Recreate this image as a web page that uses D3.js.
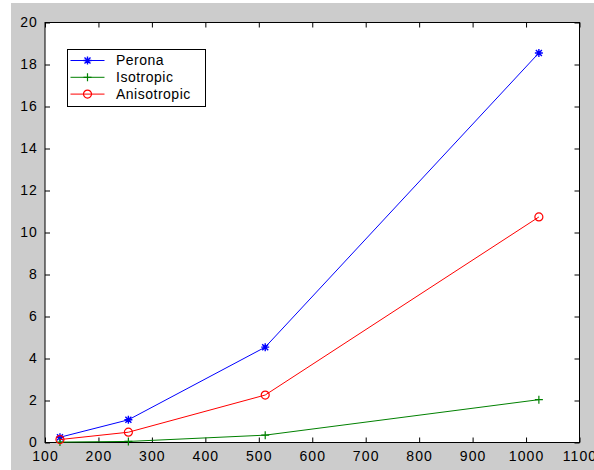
<!DOCTYPE html>
<html>
<head>
<meta charset="utf-8">
<script src="https://cdn.jsdelivr.net/npm/d3@7"></script>
<style>
  body { margin: 0; background: #fff; }
  text { font-family: "Liberation Sans", Arial, sans-serif; }
</style>
</head>
<body>
<script>
var sizes = [128, 256, 512, 1024];
var perona = [0.25, 1.08, 4.54, 18.55];
var isotropic = [0.02, 0.05, 0.35, 2.04];
var anisotropic = [0.14, 0.49, 2.26, 10.74];
var xTicks = [100, 200, 300, 400, 500, 600, 700, 800, 900, 1000, 1100];
var yTicks = [0, 2, 4, 6, 8, 10, 12, 14, 16, 18, 20];

var series = [
  {name: "Perona", values: perona, color: "#0000ff", marker: "star"},
  {name: "Isotropic", values: isotropic, color: "#008000", marker: "plus"},
  {name: "Anisotropic", values: anisotropic, color: "#ff0000", marker: "circle"}
];

var W = 594, H = 470;
var margin = {left: 45, top: 22.5, right: 14.5, bottom: 27.5};
var width = W - margin.left - margin.right;
var height = H - margin.top - margin.bottom;

var svg = d3.select("body").append("svg").attr("width", W).attr("height", H);

// gray figure background
svg.append("rect").attr("x", 11).attr("y", 3).attr("width", W - 11).attr("height", H - 3).attr("fill", "#cccccc");

var g = svg.append("g").attr("transform", "translate(" + margin.left + "," + margin.top + ")");

var x = d3.scaleLinear().domain([100, 1100]).range([0, width]);
var y = d3.scaleLinear().domain([0, 20]).range([height, 0]);

g.append("rect").attr("width", width).attr("height", height).attr("fill", "#fff");

function styleAxis(sel, hideText) {
  sel.select(".domain").remove();
  sel.selectAll("line").attr("stroke", "#000");
  sel.selectAll("text").attr("fill", "#000").style("font-size", "14px").style("letter-spacing", "1.1px");
  if (hideText) sel.selectAll("text").remove();
}

var fmt = d3.format("d");

g.append("g").attr("transform", "translate(0," + height + ")")
  .call(d3.axisBottom(x).tickValues(xTicks).tickFormat(fmt).tickSizeInner(-5).tickSizeOuter(0).tickPadding(8.5))
  .call(styleAxis);
g.append("g")
  .call(d3.axisTop(x).tickValues(xTicks).tickSizeInner(-5).tickSizeOuter(0))
  .call(styleAxis, true);
g.append("g")
  .call(d3.axisLeft(y).tickValues(yTicks).tickFormat(fmt).tickSizeInner(-5).tickSizeOuter(0).tickPadding(7))
  .call(styleAxis);
g.append("g").attr("transform", "translate(" + width + ",0)")
  .call(d3.axisRight(y).tickValues(yTicks).tickSizeInner(-5).tickSizeOuter(0))
  .call(styleAxis, true);

g.append("rect").attr("width", width).attr("height", height)
  .attr("fill", "none").attr("stroke", "#000").attr("stroke-width", 1);

var line = d3.line().x(function(d, i) { return x(sizes[i]); }).y(function(d) { return y(d); });

function drawMarker(sel, type, color) {
  if (type === "circle") {
    sel.append("circle").attr("r", 4).attr("fill", "none").attr("stroke", color).attr("stroke-width", 1.2);
  } else if (type === "plus") {
    sel.append("path").attr("d", "M-4,0H4M0,-4V4").attr("stroke", color).attr("stroke-width", 1.2);
  } else {
    sel.append("path").attr("d", "M-4,0H4M0,-4V4M-3,-3L3,3M-3,3L3,-3").attr("stroke", color).attr("stroke-width", 1.4);
  }
}

series.forEach(function(s) {
  g.append("path").attr("d", line(s.values)).attr("fill", "none")
    .attr("stroke", s.color).attr("stroke-width", 1);
  s.values.forEach(function(v, i) {
    var m = g.append("g").attr("transform", "translate(" + x(sizes[i]) + "," + y(v) + ")");
    drawMarker(m, s.marker, s.color);
  });
});

// legend
var lg = svg.append("g").attr("transform", "translate(67.5,49.5)");
lg.append("rect").attr("width", 138).attr("height", 57).attr("fill", "#fff").attr("stroke", "#000");
series.forEach(function(s, i) {
  var row = lg.append("g").attr("transform", "translate(0," + (11 + i * 16.8) + ")");
  row.append("line").attr("x1", 3).attr("x2", 37).attr("stroke", s.color);
  var m = row.append("g").attr("transform", "translate(20,0)");
  drawMarker(m, s.marker, s.color);
  row.append("text").attr("x", 48.5).attr("dy", "0.35em")
    .style("font-size", "14px").style("letter-spacing", "0.5px").text(s.name);
});
</script>
</body>
</html>
